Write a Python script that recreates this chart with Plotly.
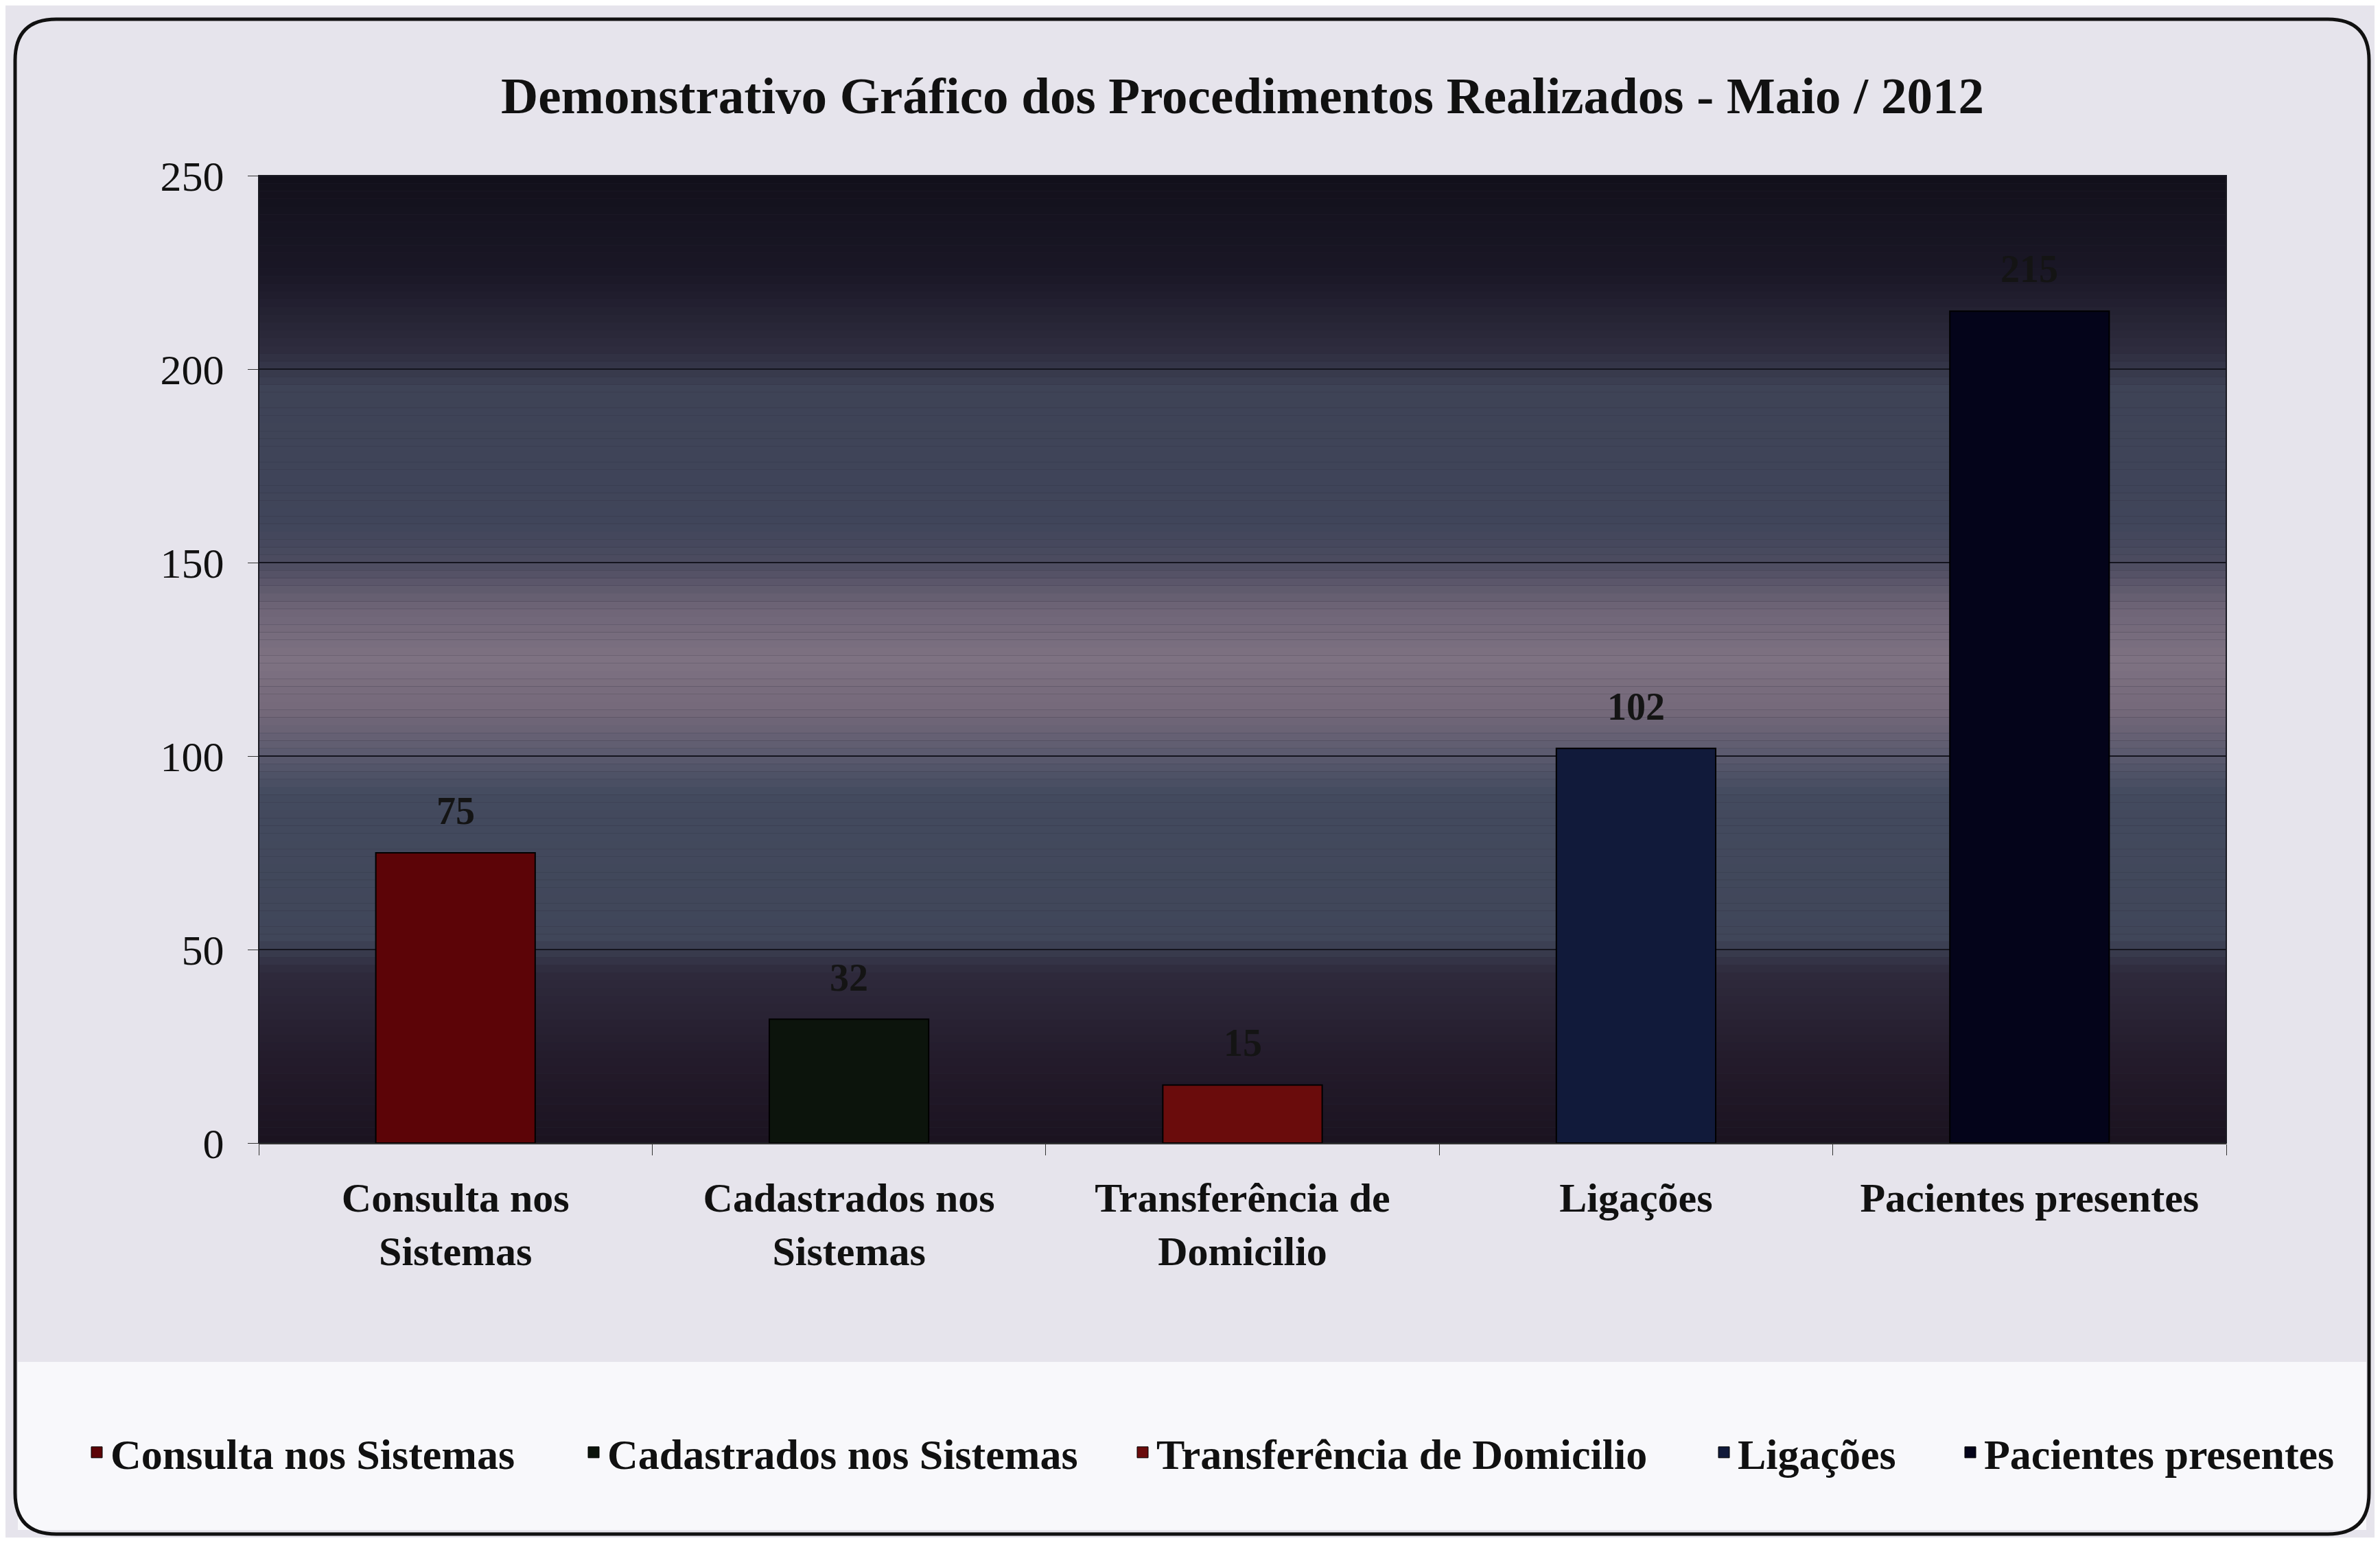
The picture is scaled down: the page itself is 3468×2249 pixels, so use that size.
import plotly.graph_objects as go

categories = ["Consulta nos Sistemas", "Cadastrados nos Sistemas", "Transferência de Domicilio", "Ligações", "Pacientes presentes"]
tick_labels = ["Consulta nos<br>Sistemas", "Cadastrados nos<br>Sistemas", "Transferência de<br>Domicilio", "Ligações", "Pacientes presentes"]
values = [75, 32, 15, 102, 215]
bar_colors = ["#5c0407", "#0c140c", "#6a0c0c", "#111a3a", "#04041a"]
y_ticks = [0, 50, 100, 150, 200, 250]

OFF = 8  # default page body margin
W, H = 3468 - 2 * OFF, 2249 - 2 * OFF
PL, PR, PT, PB = 377, 3244, 256, 1666
L, T = PL - OFF, PT - OFF
R, B = W - (PR - OFF), H - (PB - OFF)
PW, PH = W - L - R, H - T - B
FONT = "Liberation Serif"

legend_text_x = [161, 885, 1685, 2532, 2891]   # page x where each legend text starts
legend_ids = ["legend", "legend2", "legend3", "legend4", "legend5"]

fig = go.Figure()
for cat, tl, v, c in zip(categories, tick_labels, values, bar_colors):
    fig.add_trace(go.Bar(
        x=[tl], y=[v], name=cat, showlegend=False,
        marker=dict(color=c, line=dict(color="#000000", width=2)),
    ))
for cat, c, lid in zip(categories, bar_colors, legend_ids):
    fig.add_trace(go.Scatter(
        x=[None], y=[None], mode="markers", name=cat, legend=lid,
        marker=dict(symbol="square", size=30, color=c, line=dict(color="#000000", width=1)),
    ))

annotations = []
for tl, v in zip(tick_labels, values):
    annotations.append(dict(x=tl, y=v, xref="x", yref="y", text=str(v), showarrow=False,
                            yanchor="middle", yshift=61,
                            font=dict(family=FONT, size=56, color="#141414", weight="bold")))

stops = [(0, (27, 19, 32)), (20, (35, 26, 42)), (44, (46, 42, 60)), (53, (64, 70, 89)),
         (90, (67, 74, 94)), (100, (90, 90, 110)), (112, (117, 105, 122)), (125, (126, 114, 130)),
         (138, (111, 101, 119)), (150, (76, 76, 96)), (160, (64, 69, 90)), (195, (62, 67, 86)),
         (205, (46, 44, 62)), (225, (26, 23, 38)), (250, (18, 16, 27))]

def col(v):
    for (a, ca), (b, cb) in zip(stops[:-1], stops[1:]):
        if a <= v <= b:
            t = (v - a) / (b - a)
            return "rgb(%d,%d,%d)" % tuple(round(ca[i] + (cb[i] - ca[i]) * t) for i in range(3))
    return "rgb(18,16,27)"

def px(x):
    return (x - OFF - L) / PW
def py(y):
    return (H - B - (y - OFF)) / PH

shapes = []
x0, x1, y0, y1, r = 22, 3452, 28, 2236, 60
path = (f"M {px(x0+r)},{py(y0)} L {px(x1-r)},{py(y0)} Q {px(x1)},{py(y0)} {px(x1)},{py(y0+r)} "
        f"L {px(x1)},{py(y1-r)} Q {px(x1)},{py(y1)} {px(x1-r)},{py(y1)} "
        f"L {px(x0+r)},{py(y1)} Q {px(x0)},{py(y1)} {px(x0)},{py(y1-r)} "
        f"L {px(x0)},{py(y0+r)} Q {px(x0)},{py(y0)} {px(x0+r)},{py(y0)} Z")
shapes.append(dict(type="rect", xref="paper", yref="paper", x0=px(x0+4), x1=px(x1-4),
                   y0=py(2230), y1=py(1985), fillcolor="#f8f8fb", line=dict(width=0), layer="below"))
step = 2
for s in range(0, 250, step):
    shapes.append(dict(type="rect", xref="x domain", yref="y", x0=0, x1=1, y0=s, y1=s + step,
                       fillcolor=col(s + step / 2), line=dict(width=0), layer="below"))
shapes.append(dict(type="path", xref="paper", yref="paper", path=path,
                   line=dict(color="#111111", width=5), fillcolor="rgba(0,0,0,0)", layer="above"))
shapes.append(dict(type="rect", xref="x domain", yref="y domain", x0=0, x1=1, y0=0, y1=1,
                   line=dict(color="#1a1a22", width=2), fillcolor="rgba(0,0,0,0)", layer="below"))

legends = {}
for lid, tx in zip(legend_ids, legend_text_x):
    legends[lid] = dict(orientation="h", x=(tx - 40 - OFF) / W, xref="container", xanchor="left",
                        y=1 - (2117 - OFF) / H, yref="container", yanchor="middle",
                        font=dict(family=FONT, size=62, color="#111111", weight="bold"),
                        bgcolor="rgba(0,0,0,0)", itemsizing="trace")

fig.update_layout(
    width=W, height=H,
    margin=dict(l=L, r=R, t=T, b=B),
    paper_bgcolor="#e6e4ec",
    plot_bgcolor="#2a2838",
    barmode="overlay", bargap=0.595,
    shapes=shapes, annotations=annotations,
    title=dict(text="Demonstrativo Gráfico dos Procedimentos Realizados - Maio / 2012",
               x=0.5, xref="paper", xanchor="center", y=1 - (139 - OFF) / H, yref="container", yanchor="middle",
               font=dict(family=FONT, size=75, color="#111111", weight="bold")),
    font=dict(family=FONT, color="#111111"),
    **legends,
)
fig.update_yaxes(range=[0, 250], tickvals=y_ticks, ticks="outside", ticklen=15, tickcolor="#333333",
                 showgrid=True, gridcolor="#15151f", gridwidth=2, zeroline=False,
                 tickfont=dict(family=FONT, size=62, color="#111111"), ticklabelstandoff=22,
                 showline=False)
fig.update_xaxes(type="category", tickson="boundaries", ticks="outside", ticklen=16, tickcolor="#333333",
                 showline=True, linecolor="#333333", linewidth=2, showgrid=False,
                 tickfont=dict(family=FONT, size=60, color="#111111", weight="bold"), ticklabelstandoff=26)

fig.write_html("out.html")
